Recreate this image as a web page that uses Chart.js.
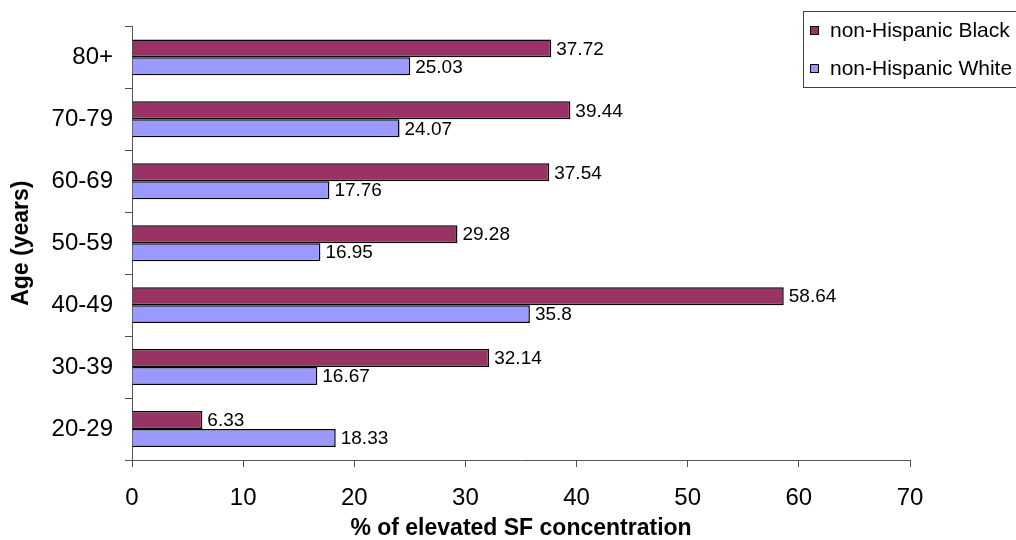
<!DOCTYPE html>
<html>
<head>
<meta charset="utf-8">
<script src="https://cdn.jsdelivr.net/npm/chart.js@4/dist/chart.umd.min.js"></script>
<style>
  html, body { margin: 0; padding: 0; background: #ffffff; }
  #wrap { width: 1016px; height: 540px; position: relative; }
</style>
</head>
<body>
<div id="wrap"><canvas id="chart" width="1016" height="540"></canvas></div>
<script>
// Age groups, listed top to bottom as drawn
const ageGroups = ['80+', '70-79', '60-69', '50-59', '40-49', '30-39', '20-29'];
// Percentage with elevated SF concentration
const blackValues = [37.72, 39.44, 37.54, 29.28, 58.64, 32.14, 6.33];
const whiteValues = [25.03, 24.07, 17.76, 16.95, 35.8, 16.67, 18.33];
const seriesNames = ['non-Hispanic Black', 'non-Hispanic White'];
const xTicks = [0, 10, 20, 30, 40, 50, 60, 70];
const yTitle = 'Age (years)';
const xTitle = '% of elevated SF concentration';

const FONT = '"Liberation Sans", Arial, sans-serif';
const colors = ['#993366', '#9999ff'];

// Value labels to the right of each bar end
const valueLabels = {
  id: 'valueLabels',
  afterDatasetsDraw(chart) {
    const ctx = chart.ctx;
    ctx.save();
    ctx.font = '19px ' + FONT;
    ctx.fillStyle = '#000';
    ctx.textBaseline = 'middle';
    ctx.textAlign = 'left';
    chart.data.datasets.forEach((ds, i) => {
      const meta = chart.getDatasetMeta(i);
      meta.data.forEach((bar, j) => {
        ctx.fillText(String(ds.data[j]), bar.x + 5, bar.y + 1);
      });
    });
    ctx.restore();
  }
};

// Boxed legend in the top-right corner
const boxLegend = {
  id: 'boxLegend',
  afterDraw(chart) {
    const ctx = chart.ctx;
    ctx.save();
    ctx.strokeStyle = '#404040';
    ctx.lineWidth = 1;
    ctx.strokeRect(803.5, 11.5, 220, 76);
    ctx.font = '21px ' + FONT;
    ctx.textBaseline = 'middle';
    ctx.textAlign = 'left';
    const rows = [30, 68];
    chart.data.datasets.forEach((ds, i) => {
      const y = rows[i];
      ctx.fillStyle = ds.backgroundColor;
      ctx.fillRect(810, y - 4, 9, 9);
      ctx.strokeStyle = '#000';
      ctx.strokeRect(810.5, y - 3.5, 8, 8);
      ctx.fillStyle = '#000';
      ctx.fillText(ds.label, 830, y + 1);
    });
    ctx.restore();
  }
};

new Chart(document.getElementById('chart'), {
  type: 'bar',
  data: {
    labels: ageGroups,
    datasets: [
      { label: seriesNames[0], data: blackValues, backgroundColor: colors[0], borderColor: '#000', borderWidth: 1.5 },
      { label: seriesNames[1], data: whiteValues, backgroundColor: colors[1], borderColor: '#000', borderWidth: 1.5 }
    ]
  },
  options: {
    indexAxis: 'y',
    responsive: false,
    animation: false,
    layout: { padding: { top: 26, right: 106, left: 0, bottom: 0 } },
    datasets: { bar: { categoryPercentage: 0.58, barPercentage: 1.0 } },
    plugins: { legend: { display: false }, tooltip: { enabled: false } },
    scales: {
      x: {
        min: 0, max: 70,
        afterBuildTicks(scale) { scale.ticks = xTicks.map(v => ({ value: v })); },
        afterFit(scale) { scale.height = 80; },
        border: { color: '#555', width: 1 },
        grid: { drawOnChartArea: false, drawTicks: true, tickLength: 7, color: '#555' },
        ticks: { color: '#000', font: { family: FONT, size: 24 }, padding: 17, maxRotation: 0 },
        title: { display: true, text: xTitle, color: '#000', font: { family: FONT, size: 23, weight: 'bold', lineHeight: 1 }, padding: { top: 0, bottom: 0 } }
      },
      y: {
        afterFit(scale) { scale.width = 132; },
        border: { color: '#555', width: 1 },
        grid: { drawOnChartArea: false, drawTicks: true, tickLength: 7, color: '#555', offset: true },
        ticks: { color: '#000', font: { family: FONT, size: 24 }, padding: 12 },
        title: { display: true, text: yTitle, color: '#000', font: { family: FONT, size: 23, weight: 'bold', lineHeight: 1 }, padding: { top: 10, bottom: 0 } }
      }
    }
  },
  plugins: [valueLabels, boxLegend]
});
</script>
</body>
</html>
